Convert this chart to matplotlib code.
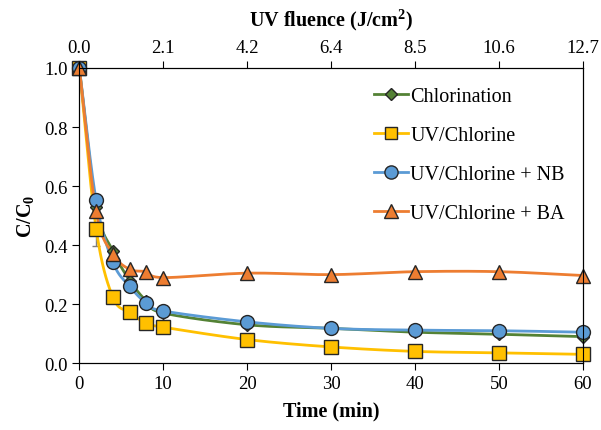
import numpy as np
import matplotlib
matplotlib.use("Agg")
import matplotlib.pyplot as plt

plt.rcParams["font.family"] = "Liberation Serif"
plt.rcParams["mathtext.fontset"] = "custom"
plt.rcParams["mathtext.rm"] = "Liberation Serif"
plt.rcParams["mathtext.bf"] = "Liberation Serif:bold"

time = [0, 2, 4, 6, 8, 10, 20, 30, 40, 50, 60]
chlorination = [1.0, 0.53, 0.38, 0.28, 0.21, 0.17, 0.13, 0.118, 0.105, 0.098, 0.09]
uv_chlorine = [1.0, 0.456, 0.223, 0.172, 0.135, 0.122, 0.08, 0.055, 0.04, 0.035, 0.03]
uv_nb = [1.0, 0.552, 0.342, 0.26, 0.203, 0.177, 0.14, 0.118, 0.112, 0.11, 0.105]
uv_ba = [1.0, 0.514, 0.37, 0.318, 0.31, 0.29, 0.305, 0.30, 0.31, 0.31, 0.297]
uv_err_t2 = 0.06

fluence_labels = ["0.0", "2.1", "4.2", "6.4", "8.5", "10.6", "12.7"]


def smooth(x, y, n=20):
    # Catmull-Rom style smoothing, similar to Excel's smoothed lines
    x = np.asarray(x, float)
    y = np.asarray(y, float)
    px = np.concatenate([[2 * x[0] - x[1]], x, [2 * x[-1] - x[-2]]])
    py = np.concatenate([[2 * y[0] - y[1]], y, [2 * y[-1] - y[-2]]])
    xs, ys = [], []
    t = np.linspace(0, 1, n)
    for i in range(1, len(px) - 2):
        p0x, p1x, p2x, p3x = px[i - 1:i + 3]
        p0y, p1y, p2y, p3y = py[i - 1:i + 3]
        c1x = p1x + (p2x - p0x) / 6
        c1y = p1y + (p2y - p0y) / 6
        c2x = p2x - (p3x - p1x) / 6
        c2y = p2y - (p3y - p1y) / 6
        bx = (1 - t) ** 3 * p1x + 3 * (1 - t) ** 2 * t * c1x + 3 * (1 - t) * t ** 2 * c2x + t ** 3 * p2x
        by = (1 - t) ** 3 * p1y + 3 * (1 - t) ** 2 * t * c1y + 3 * (1 - t) * t ** 2 * c2y + t ** 3 * p2y
        xs.append(bx)
        ys.append(by)
    return np.concatenate(xs), np.concatenate(ys)


fig = plt.figure(figsize=(6.01, 4.31), dpi=100)
ax = fig.add_axes([0.132, 0.155, 0.838, 0.685])

series = [
    ("Chlorination", chlorination, "#548235", "#548235", "D", 6.5),
    ("UV/Chlorine", uv_chlorine, "#FFC000", "#FFC000", "s", 9.5),
    ("UV/Chlorine + NB", uv_nb, "#5B9BD5", "#5B9BD5", "o", 10),
    ("UV/Chlorine + BA", uv_ba, "#ED7D31", "#ED7D31", "^", 10),
]

ax.errorbar([time[1]], [uv_chlorine[1]], yerr=[[uv_err_t2], [0]], fmt="none",
            ecolor="#7f7f7f", elinewidth=1, capsize=3, zorder=2)

for label, vals, lc, fc, mk, ms in series:
    sx, sy = smooth(time, vals)
    ax.plot(sx, sy, color=lc, lw=2, zorder=3)
    ax.plot(time, vals, ls="none", marker=mk, ms=ms, mfc=fc, mec="#262626",
            mew=1, clip_on=False, zorder=4)
    ax.plot([], [], color=lc, lw=2, marker=mk, ms=ms * 0.95, mfc=fc,
            mec="#262626", mew=1, label=label)

ax.set_xlim(0, 60)
ax.set_ylim(0, 1.0)
ax.set_xticks(range(0, 61, 10))
ax.set_yticks(np.arange(0, 1.01, 0.2))
ax.set_yticklabels([f"{v:.1f}" for v in np.arange(0, 1.01, 0.2)])
ax.tick_params(labelsize=13.5, direction="out", length=5, right=False)
ax.set_xlabel("Time (min)", fontsize=14.5, fontweight="bold", labelpad=6)
ax.set_ylabel(r"C/C$_\mathbf{0}$", fontsize=14.5, fontweight="bold", labelpad=5)

ax2 = ax.twiny()
ax2.set_xlim(0, 60)
ax2.set_xticks(range(0, 61, 10))
ax2.set_xticklabels(fluence_labels)
ax2.tick_params(labelsize=13.5, direction="out", length=5)
ax2.set_xlabel(r"UV fluence (J/cm$^\mathbf{2}$)", fontsize=14.5, fontweight="bold", labelpad=10)

ax.legend(loc="upper right", bbox_to_anchor=(1.0, 0.998), frameon=False,
          fontsize=14.5, handlelength=1.7, handletextpad=0.1, labelspacing=1.0)

fig.savefig("out.png", dpi=100)
